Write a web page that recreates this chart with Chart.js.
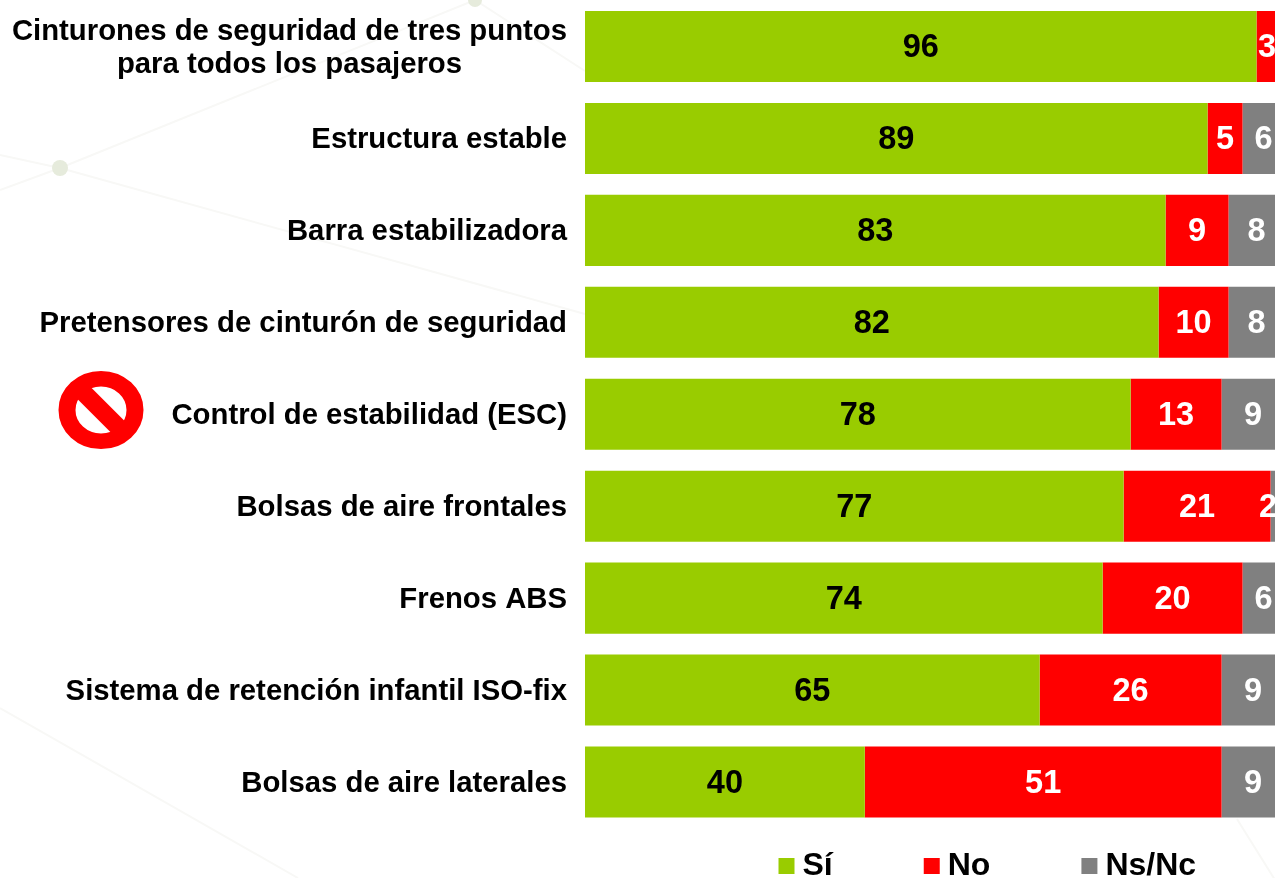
<!DOCTYPE html>
<html><head><meta charset="utf-8">
<style>html,body{margin:0;padding:0;width:1275px;height:878px;overflow:hidden;background:#fff}
#wrap{position:relative;width:1275px;height:878px;overflow:hidden}
#bg{position:absolute;left:0;top:0}
#c{position:absolute;left:0;top:0}</style>
<script src="https://cdn.jsdelivr.net/npm/chart.js@4"></script>
</head><body>
<div id="wrap">
<svg id="bg" width="1275" height="878">
<g stroke="#f8f8f6" stroke-width="2" fill="none">
<line x1="0" y1="190" x2="60" y2="168"/><line x1="60" y1="168" x2="475" y2="0"/>
<line x1="0" y1="155" x2="60" y2="168"/><line x1="60" y1="168" x2="585" y2="314"/>
<line x1="475" y1="0" x2="585" y2="71"/>
<line x1="0" y1="708" x2="298" y2="878"/>
<line x1="1237" y1="819" x2="1275" y2="880"/>
</g>
<circle cx="60" cy="168" r="8" fill="#e6ebdc"/>
<circle cx="475" cy="0" r="7" fill="#e6ebdc"/>
</svg>
<canvas id="c" width="1285" height="878" style="width:1285px;height:878px"></canvas>
</div>
<script>
const categories = [
  ["Cinturones de seguridad de tres puntos","para todos los pasajeros"],
  "Estructura estable","Barra estabilizadora","Pretensores de cinturón de seguridad",
  "Control de estabilidad (ESC)","Bolsas de aire frontales","Frenos ABS",
  "Sistema de retención infantil ISO-fix","Bolsas de aire laterales"];
const si   = [96,89,83,82,78,77,74,65,40];
const no   = [3,5,9,10,13,21,20,26,51];
const nsnc = [1,6,8,8,9,2,6,9,9];
const seriesNames = ["Sí","No","Ns/Nc"];
const FONT = '"Liberation Sans", Arial, sans-serif';

const barLabels = {
  id:'barLabels',
  afterDatasetsDraw(chart){
    const ctx = chart.ctx;
    ctx.save();
    ctx.font = 'bold 32.5px '+FONT;
    ctx.textAlign='center'; ctx.textBaseline='middle';
    chart.data.datasets.forEach((ds,d)=>{
      chart.getDatasetMeta(d).data.forEach((bar,i)=>{
        if(d===2 && ds.data[i]<2) return;
        const p = bar.getProps(['x','y','base'],true);
        ctx.fillStyle = d===0 ? '#000' : '#fff';
        // labels are kept inside the visible page edge, as in the reference
        const x = Math.min((p.x+p.base)/2, 1268);
        ctx.fillText(String(ds.data[i]), x, p.y+2);
      });
    });
    ctx.restore();
  }
};
const forbidden = {
  id:'forbidden',
  afterDraw(chart){
    const ctx=chart.ctx, cx=101, cy=410;
    ctx.save();
    ctx.strokeStyle='#f00'; ctx.lineWidth=17; ctx.lineCap='butt';
    ctx.save(); ctx.translate(cx,cy); ctx.scale(1,0.92);
    ctx.beginPath(); ctx.arc(0,0,34,0,Math.PI*2); ctx.stroke();
    ctx.restore();
    ctx.lineWidth=18;
    ctx.beginPath(); ctx.moveTo(cx-25,cy-25); ctx.lineTo(cx+25,cy+25); ctx.stroke();
    ctx.restore();
  }
};
const placeLegend = {
  id:'placeLegend',
  afterLayout(chart){
    const l = chart.legend;
    const w = l.width;
    l.left = 786.5 - 99; l.right = l.left + w;
    l.top = 850 - 99; l.bottom = l.top + l.height;
  }
};
new Chart(document.getElementById('c'),{
  type:'bar',
  data:{labels:categories,datasets:[
    {label:seriesNames[0],data:si,backgroundColor:'#99cc00'},
    {label:seriesNames[1],data:no,backgroundColor:'#ff0000'},
    {label:seriesNames[2],data:nsnc,backgroundColor:'#808080'}
  ]},
  options:{
    indexAxis:'y',responsive:false,animation:false,
    datasets:{bar:{categoryPercentage:0.773,barPercentage:1,borderWidth:0}},
    layout:{autoPadding:false,padding:{top:0.5,right:0.5,left:0,bottom:-91}},
    plugins:{
      tooltip:{enabled:false},
      legend:{
        position:'bottom',align:'start',
        labels:{usePointStyle:true,pointStyle:'rect',boxWidth:0.01,boxHeight:16,padding:99,
          color:'#000',font:{family:FONT,size:32,weight:'bold'}}
      }
    },
    scales:{
      x:{stacked:true,min:0,max:100,display:false},
      y:{stacked:true,
        grid:{display:false},border:{display:false},
        afterFit(s){s.width=585;s.paddingTop=0;s.paddingBottom=0;},
        afterUpdate(s){
          const draw = s.drawLabels;
          s.drawLabels = function(area){
            const ctx = s.ctx, fill = ctx.fillText;
            // wrapped labels: the lines are centred on each other, the block stays right-aligned
            ctx.fillText = function(t,x,y){
              const lines = categories.find(c=>Array.isArray(c)&&c.includes(t));
              if(lines){
                const max = Math.max(...lines.map(m=>ctx.measureText(m).width));
                x -= (max-ctx.measureText(t).width)/2;
              }
              fill.call(ctx,t,x,y);
            };
            ctx.save(); ctx.translate(0,1.5); draw.call(s,area); ctx.restore();
            delete ctx.fillText;
          };
        },
        ticks:{color:'#000',padding:10,autoSkip:false,font:{family:FONT,size:29.3,weight:'bold',lineHeight:'33px'}}
      }
    }
  },
  plugins:[barLabels,forbidden,placeLegend]
});
</script>
</body></html>
